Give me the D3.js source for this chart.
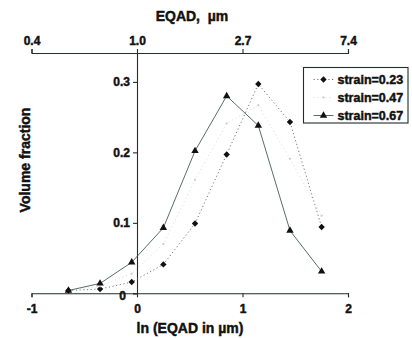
<!DOCTYPE html>
<html>
<head>
<meta charset="utf-8">
<script src="https://cdn.jsdelivr.net/npm/d3@7"></script>
<style>
  html, body { margin: 0; padding: 0; background: #fff; }
  svg text { font-family: "Liberation Sans", Arial, sans-serif !important; font-weight: 700 !important; fill: #111; stroke: #111; stroke-width: 0.45px; }
</style>
</head>
<body>
<svg id="chart" width="412" height="338"></svg>
<script>
// ln(EQAD in µm) bin centres
const lnSize = [-0.65, -0.35, -0.05, 0.25, 0.55, 0.85, 1.15, 1.45, 1.75];
// volume fraction per bin for each strain
const strain023 = [0.004, 0.006, 0.016, 0.041, 0.099, 0.197, 0.297, 0.243, 0.094];
const strain047 = [0.004, 0.010, 0.028, 0.070, 0.161, 0.241, 0.267, 0.191, 0.110];
const strain067 = [0.004, 0.014, 0.044, 0.093, 0.202, 0.280, 0.238, 0.089, 0.031];
const seriesNames = ["strain=0.23", "strain=0.47", "strain=0.67"];
const bottomTicks = [-1, 0, 1, 2];
const bottomTickLabels = ["-1", "0", "1", "2"];
const topTickLabels = ["0.4", "1.0", "2.7", "7.4"];
const yTicks = [0, 0.1, 0.2, 0.3];

const svg = d3.select("#chart");
const axisColor = "#1f2f2c";

const x = d3.scaleLinear().domain([-1, 2]).range([31.5, 348]);
const y = d3.scaleLinear().domain([0, 0.341]).range([293.3, 53]);

// bottom axis
const gx = svg.append("g").attr("transform", `translate(0,${y(0)})`)
  .call(d3.axisBottom(x).tickValues(bottomTicks).tickFormat((d, i) => bottomTickLabels[i]).tickSizeOuter(0).tickSize(4));
gx.selectAll("text").attr("dy", "0").attr("y", 20).style("font-size", "12px");

// top axis (EQAD in µm)
const gt = svg.append("g").attr("transform", `translate(0,${y.range()[1]})`)
  .call(d3.axisTop(x).tickValues(bottomTicks).tickFormat((d, i) => topTickLabels[i]).tickSizeOuter(0).tickSize(4));
gt.selectAll("text").attr("y", -8).style("font-size", "12px");

// left axis placed at ln = 0
const gy = svg.append("g").attr("transform", `translate(${x(0)},0)`)
  .call(d3.axisLeft(y).tickValues(yTicks).tickFormat(d => d === 0 ? "0" : d3.format(".1f")(d)).tickSizeOuter(0).tickSize(4));
gy.selectAll("text").attr("x", -7).style("font-size", "12px");
gy.selectAll(".tick").filter(d => d === 0).select("text").attr("x", -11).attr("dy", "0.55em");

[gx, gt, gy].forEach(g => {
  g.selectAll("path, line").attr("stroke", axisColor).attr("stroke-width", 1.1);
});

// axis titles
svg.append("text").attr("x", 192).attr("y", 21).attr("text-anchor", "middle")
  .style("font-size", "14px").style("white-space", "pre").text("EQAD,  \u00b5m");
svg.append("text").attr("x", 190).attr("y", 333).attr("text-anchor", "middle")
  .style("font-size", "14px").text("ln (EQAD in \u00b5m)");
svg.append("text").attr("transform", "translate(30,160) rotate(-90)").attr("text-anchor", "middle")
  .style("font-size", "14px").text("Volume fraction");

const line = d3.line().x(d => x(d[0])).y(d => y(d[1]));
const series = [
  { name: seriesNames[0], values: strain023, stroke: "#777", dash: "1.2,2.5", width: 1, symbol: d3.symbolDiamond2, size: 26, fill: "#111" },
  { name: seriesNames[1], values: strain047, stroke: "#dadada", dash: "1,3", width: 1, symbol: d3.symbolCircle, size: 4, fill: "#cfcfcf" },
  { name: seriesNames[2], values: strain067, stroke: "#4a5a57", dash: null, width: 0.9, symbol: d3.symbolTriangle, size: 24, fill: "#111" }
];

series.forEach(s => {
  const pts = lnSize.map((v, i) => [v, s.values[i]]);
  svg.append("path").datum(pts).attr("d", line).attr("fill", "none")
    .attr("stroke", s.stroke).attr("stroke-width", s.width)
    .attr("stroke-dasharray", s.dash);
  svg.append("g").selectAll("path").data(pts).join("path")
    .attr("transform", d => `translate(${x(d[0])},${y(d[1])})`)
    .attr("d", d3.symbol().type(s.symbol).size(s.size))
    .attr("fill", s.fill);
});

// legend
const lg = svg.append("g").attr("transform", "translate(303.5,67.5)");
lg.append("rect").attr("width", 104.5).attr("height", 55.5).attr("fill", "#fff")
  .attr("stroke", axisColor).attr("stroke-width", 1.1);
series.forEach((s, i) => {
  const yy = 12 + i * 18;
  lg.append("line").attr("x1", 10).attr("x2", 30).attr("y1", yy).attr("y2", yy)
    .attr("stroke", s.stroke).attr("stroke-width", s.width).attr("stroke-dasharray", s.dash);
  lg.append("path").attr("transform", `translate(20,${yy})`)
    .attr("d", d3.symbol().type(s.symbol).size(s.size)).attr("fill", s.fill);
  lg.append("text").attr("x", 34).attr("y", yy + 4.5).style("font-size", "12.5px").text(s.name);
});
</script>
</body>
</html>
